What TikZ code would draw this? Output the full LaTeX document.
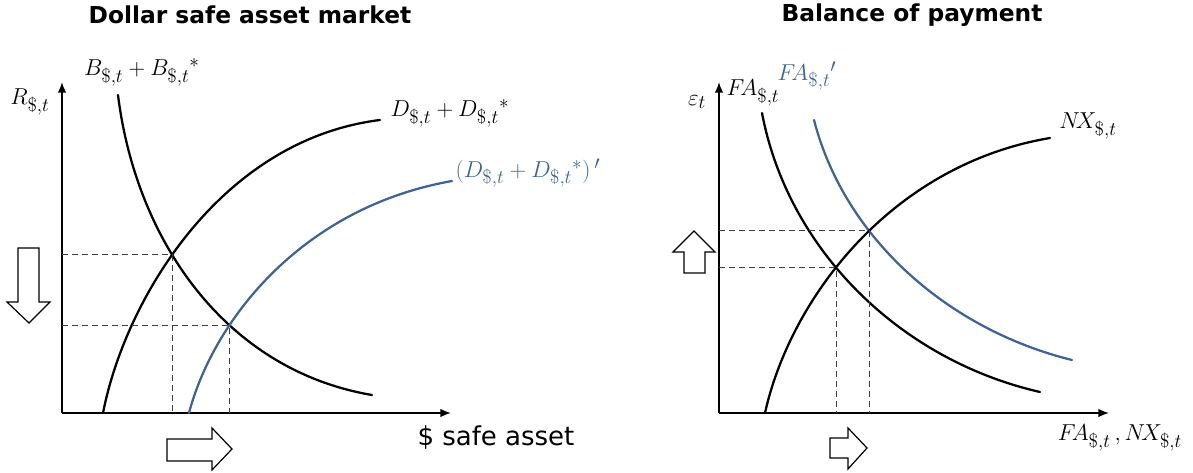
\documentclass[tikz,border=0pt]{standalone}
\usepackage{fontspec}
\setsansfont{DejaVu Sans}
\usepackage{tikz}
\usetikzlibrary{arrows.meta, calc, intersections}
\definecolor{ShiftBlue}{HTML}{3E6496}

\begin{document}
\begin{tikzpicture}[
    x=0.75pt, y=-0.75pt,
    font=\fontsize{19}{21}\selectfont,
    axis/.style={draw, line width=1.3pt, -{Latex[length=8pt,width=6.5pt]}},
    curve/.style={draw, line width=1.7pt, line cap=round},
    shifted/.style={curve, draw=ShiftBlue},
    guide/.style={draw, line width=0.6pt, black!75, dash pattern=on 4.5pt off 3pt},
    blockarrow/.style={draw, line width=0.9pt, fill=white, line join=miter},
    ttl/.style={font=\sffamily\bfseries\fontsize{17.5}{20}\selectfont},
    lbl/.style={inner sep=1pt},
    bluelbl/.style={lbl, text=ShiftBlue}
]
    \useasboundingbox (0,0) rectangle (1193,473);

    % Titles
    \node[ttl] (ttlL) at (250,15) {Dollar safe asset market};
    \node[ttl] (ttlR) at (912,15) {Balance of payment};

    % ---------- Dollar safe asset market ----------
    \coordinate (O1) at (62,413);
    \coordinate (Ytip1) at (62,82);
    \coordinate (Xtip1) at (451,413);
    \path[axis] (O1) -- (Ytip1);
    \path[axis] (O1) -- (Xtip1);

    % Supply and demand
    \path[curve, name path=supply] (118,95) .. controls (136,240) and (225,370) .. (372,395);
    \path[curve, name path=demand] (103,413) .. controls (125,300) and (220,140) .. (380,120);
    \path[shifted, name path=demandnew] (189,413) .. controls (213,322) and (300,208) .. (452,181);

    % Equilibria
    \path[name intersections={of=supply and demand, by=E1}];
    \path[name intersections={of=supply and demandnew, by=E2}];
    \path[guide] (E1 -| O1) -- (E1) -- (E1 |- O1);
    \path[guide] (E2 -| O1) -- (E2) -- (E2 |- O1);

    % Labels
    \node[lbl] (Rlab) at (30,102) {$R_{\$,t}$};
    \node[lbl] (Blab) at (142,72) {$B_{\$,t}+{B_{\$,t}}^{*}$};
    \node[lbl, anchor=west] (Dlab) at (389,113) {$D_{\$,t}+{D_{\$,t}}^{*}$};
    \node[bluelbl, anchor=west] (Dplab) at (454,173) {$(D_{\$,t}+{D_{\$,t}}^{*})\,'$};
    \node[lbl, font=\sffamily\fontsize{19.5}{21}\selectfont] (Xlab1) at (496,438) {\$ safe asset};

    % Shift arrows
    \path[blockarrow] (18,248) -- (39,248) -- (39,302) -- (50,302) -- (29,323) -- (7,302) -- (18,302) -- cycle;
    \path[blockarrow] (167,439) -- (212,439) -- (212,428) -- (232,449) -- (212,470) -- (212,461) -- (167,461) -- cycle;

    % ---------- Balance of payment ----------
    \coordinate (O2) at (719,413);
    \coordinate (Ytip2) at (719,82);
    \coordinate (Xtip2) at (1109,413);
    \path[axis] (O2) -- (Ytip2);
    \path[axis] (O2) -- (Xtip2);

    % Financial account and net exports
    \path[curve, name path=fa] (762,113) .. controls (788,250) and (900,360) .. (1040,392);
    \path[shifted, name path=fanew] (814,120) .. controls (845,240) and (950,330) .. (1072,360);
    \path[curve, name path=nx] (765,413) .. controls (790,300) and (890,165) .. (1050,138);

    % Equilibria
    \path[name intersections={of=fanew and nx, by=F1}];
    \path[name intersections={of=fa and nx, by=F2}];
    \path[guide] (F1 -| O2) -- (F1) -- (F1 |- O2);
    \path[guide] (F2 -| O2) -- (F2) -- (F2 |- O2);

    % Labels
    \node[lbl] (elab) at (697,102) {$\varepsilon_{t}$};
    \node[lbl] (FAlab) at (753,93) {$F\!A_{\$,t}$};
    \node[bluelbl] (FAplab) at (807,76) {${F\!A_{\$,t}}'$};
    \node[lbl] (NXlab) at (1088,126) {$N\!X_{\$,t}$};
    \node[lbl] (Xlab2) at (1120,438) {$F\!A_{\$,t}\,,N\!X_{\$,t}$};

    % Shift arrows
    \path[blockarrow] (694,231) -- (715,252) -- (705,252) -- (705,273) -- (684,273) -- (684,252) -- (673,252) -- cycle;
    \path[blockarrow] (830,438) -- (848,438) -- (848,428) -- (867,448) -- (848,469) -- (848,458) -- (830,458) -- cycle;
\end{tikzpicture}
\end{document}
